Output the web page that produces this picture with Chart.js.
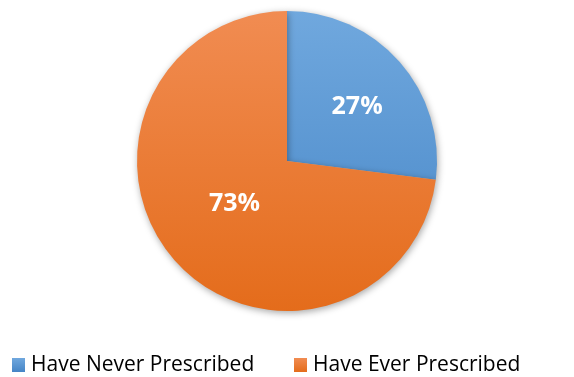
<!DOCTYPE html>
<html>
<head>
<meta charset="utf-8">
<script src="https://cdn.jsdelivr.net/npm/chart.js@4.4.1/dist/chart.umd.min.js"></script>
<style>
  html, body { margin: 0; padding: 0; background: #fff; }
  #wrap { width: 574px; height: 377px; }
</style>
</head>
<body>
<div id="wrap"><canvas id="canvas" width="574" height="377"></canvas></div>
<script>
const labels = ['Have Never Prescribed', 'Have Ever Prescribed'];
const shares = [27, 73];

// top / bottom shades for each slice gradient
const topColors = ['#70a8de', '#f18c52'];
const bottomColors = ['#4585c6', '#e46c1b'];

// where each percentage sits: fraction of the radius, and a small turn (degrees)
const labelRadius = [0.59, 0.45];
const labelTurn = [3.8, 2.4];

// left edge of each legend entry
const legendX = [12, 294];

const ctx = document.getElementById('canvas').getContext('2d');

function sliceFill(context) {
    const chart = context.chart;
    const area = chart.chartArea;
    if (!area) return topColors[context.dataIndex];
    const cy = (area.top + area.bottom) / 2;
    const g = chart.ctx.createLinearGradient(0, cy - 150, 0, cy + 150);
    g.addColorStop(0, topColors[context.dataIndex]);
    g.addColorStop(1, bottomColors[context.dataIndex]);
    return g;
}

const pieShadow = {
    id: 'pieShadow',
    beforeDatasetsDraw: (chart) => {
        const c = chart.ctx;
        c.save();
        c.shadowColor = 'rgba(0, 0, 0, 0.35)';
        c.shadowBlur = 7;
        c.shadowOffsetX = 1;
        c.shadowOffsetY = 2;
    },
    afterDatasetsDraw: (chart) => {
        chart.ctx.restore();
    }
};

const sliceLabels = {
    id: 'sliceLabels',
    afterDatasetsDraw: (chart) => {
        const c = chart.ctx;
        const meta = chart.getDatasetMeta(0);
        c.save();
        c.font = 'bold 25px "Open Sans"';
        c.fillStyle = '#ffffff';
        c.textAlign = 'center';
        c.textBaseline = 'middle';
        meta.data.forEach((arc, i) => {
            const p = arc.getProps(['x', 'y', 'startAngle', 'endAngle', 'outerRadius'], true);
            const mid = (p.startAngle + p.endAngle) / 2 + labelTurn[i] * Math.PI / 180;
            const r = p.outerRadius * labelRadius[i];
            c.fillText(shares[i] + '%', p.x + Math.cos(mid) * r, p.y + Math.sin(mid) * r);
        });
        c.restore();
    }
};

// legend drawn along the bottom, one square + label per slice
const bottomLegend = {
    id: 'bottomLegend',
    afterDraw: (chart) => {
        const c = chart.ctx;
        const y = chart.height - 12;
        c.save();
        c.font = '21px "Open Sans"';
        c.textBaseline = 'middle';
        labels.forEach((text, i) => {
            const x = legendX[i];
            const g = c.createLinearGradient(0, y - 7, 0, y + 7);
            g.addColorStop(0, topColors[i]);
            g.addColorStop(1, bottomColors[i]);
            c.fillStyle = g;
            c.fillRect(x, y - 7, 13, 14);
            c.fillStyle = '#000000';
            c.fillText(text, x + 19, y);
        });
        c.restore();
    }
};

const chart = new Chart(ctx, {
    type: 'pie',
    data: {
        labels: labels,
        datasets: [{
            data: shares,
            backgroundColor: sliceFill,
            borderWidth: 0,
            radius: 150
        }]
    },
    options: {
        responsive: false,
        animation: false,
        layout: {
            padding: { top: 11, left: 0, right: 0, bottom: 66 }
        },
        plugins: {
            tooltip: { enabled: false },
            legend: { display: false }
        }
    },
    plugins: [pieShadow, sliceLabels, bottomLegend]
});
</script>
</body>
</html>
